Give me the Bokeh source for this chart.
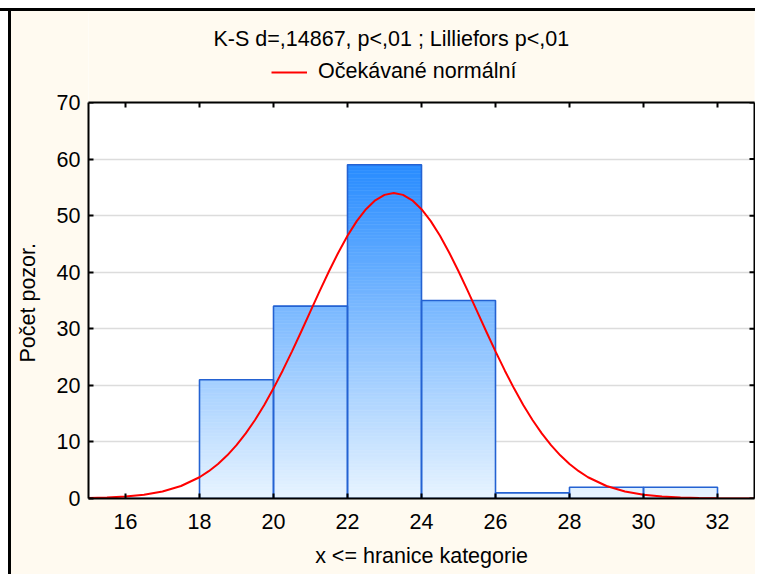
import numpy as np
from bokeh.plotting import figure
from bokeh.models import (Range1d, FixedTicker, Legend, LegendItem, Title, LinearAxis,
                          BoxAnnotation, Span, Label)
from bokeh.embed import file_html
from bokeh.resources import INLINE

# ---- data ----
bin_left = [16, 18, 20, 22, 24, 26, 28, 30]
bin_right = [18, 20, 22, 24, 26, 28, 30, 32]
counts = [0, 21, 34, 59, 35, 1, 2, 2]

curve_x = [15, 15.5, 16, 16.5, 17, 17.5, 18, 18.25, 18.5, 18.75, 19, 19.25, 19.5, 19.75,
           20, 20.25, 20.5, 20.75, 21, 21.25, 21.5, 21.75, 22, 22.25, 22.5, 22.75,
           23, 23.25, 23.5, 23.75, 24, 24.25, 24.5, 24.75, 25, 25.25, 25.5, 25.75,
           26, 26.25, 26.5, 26.75, 27, 27.25, 27.5, 27.75, 28, 28.25, 28.5, 29, 29.5,
           30, 30.5, 31, 31.5, 32, 32.5, 33]
curve_y = [0.08, 0.16, 0.34, 0.66, 1.24, 2.21, 3.76, 4.83, 6.11, 7.63, 9.43, 11.51, 13.88, 16.53,
           19.47, 22.64, 26.01, 29.52, 33.11, 36.69, 40.17, 43.45, 46.44, 49.03, 51.14, 52.71,
           53.67, 54.0, 53.67, 52.71, 51.14, 49.03, 46.44, 43.45, 40.17, 36.69, 33.11, 29.52,
           26.01, 22.64, 19.47, 16.53, 13.88, 11.51, 9.43, 7.63, 6.11, 4.83, 3.76, 2.21, 1.24,
           0.66, 0.34, 0.16, 0.08, 0.03, 0.013, 0.005]

x_ticks = [16, 18, 20, 22, 24, 26, 28, 30, 32]
y_ticks = [0, 10, 20, 30, 40, 50, 60, 70]

title_text = "K-S d=,14867, p<,01 ; Lilliefors p<,01"
legend_label = "Očekávané normální"
x_label = "x <= hranice kategorie"
y_label = "Počet pozor."

FONT = "Liberation Sans"
FS = "21.5px"
CREAM = "#fffaf0"
X0, X1, Y0, Y1 = 15, 33, 0, 70

# layout (pixels): the frame reaches up to hold title and legend; the plot box is 102..498
W, H = 755, 574
FRAME_TOP, PLOT_TOP, FRAME_BOTTOM, FRAME_LEFT = 12, 102, 498, 89
Y_TOP = Y1 * (FRAME_BOTTOM - FRAME_TOP) / (FRAME_BOTTOM - PLOT_TOP)

p = figure(width=W, height=H, x_range=Range1d(X0, X1), y_range=Range1d(Y0, Y_TOP),
           output_backend="svg", toolbar_location=None, title=None,
           min_border_left=0, min_border_right=1, min_border_bottom=H - FRAME_BOTTOM,
           min_border_top=FRAME_TOP,
           background_fill_color="white", border_fill_alpha=0, outline_line_color=None)
p.styles = {
    "background": "linear-gradient(to bottom, white 0px, white 8px, black 8px, black 11px, "
                  "transparent 11px), linear-gradient(to right, white 0px, white 8px, "
                  "black 8px, black 11px, transparent 11px), " + CREAM
}

p.xgrid.visible = False
p.ygrid.grid_line_color = "#dcdcdc"
p.ygrid.grid_line_width = 1.5
p.ygrid.ticker = FixedTicker(ticks=y_ticks)

# gradient-filled bars as thin slices
step = 0.5
c_lo = np.array([232, 244, 255])
c_hi = np.array([40, 140, 255])
top_ref = max(counts)
sl, sr, sb, st, sc = [], [], [], [], []
for l, r, c in zip(bin_left, bin_right, counts):
    y0 = 0.0
    while y0 < c:
        y1 = min(y0 + step, c)
        t = ((y0 + y1) / 2) / top_ref
        col = (c_lo + (c_hi - c_lo) * t).round().astype(int)
        sl.append(l); sr.append(r); sb.append(y0); st.append(y1)
        sc.append("#%02x%02x%02x" % tuple(col))
        y0 = y1
p.quad(left=sl, right=sr, bottom=sb, top=st, fill_color=sc, line_color=sc, line_width=0.6)
p.quad(left=bin_left, right=bin_right, bottom=0, top=counts, fill_color=None,
       line_color="#2462d2", line_width=1.6)

curve = p.line(curve_x, curve_y, line_color="red", line_width=2)

# mirrored inward ticks on the top and right edges of the plot box
p.scatter(x_ticks, [Y1] * len(x_ticks), marker="dash", angle=np.pi / 2, size=10,
          line_color="black", line_width=2)
p.scatter([X1] * len(y_ticks), y_ticks, marker="dash", size=10,
          line_color="black", line_width=2)

# cream area above the plot box, and the top edge of the box
p.add_layout(BoxAnnotation(bottom=Y1, fill_color=CREAM, fill_alpha=1, line_color=None))
p.add_layout(Span(location=Y1, dimension="width", line_color="black", line_width=2))

# axes
for ax in (p.xaxis[0], p.yaxis[0]):
    ax.major_tick_in = 5
    ax.major_tick_out = 0
    ax.minor_tick_line_color = None
    ax.axis_line_width = 2
    ax.major_tick_line_width = 2
    ax.major_label_text_font = FONT
    ax.major_label_text_font_size = FS
    ax.major_label_text_color = "black"
    ax.axis_label_text_font = FONT
    ax.axis_label_text_font_size = FS
    ax.axis_label_text_font_style = "normal"
    ax.axis_label_text_color = "black"
p.xaxis.ticker = FixedTicker(ticks=x_ticks)
p.yaxis.ticker = FixedTicker(ticks=y_ticks)
p.yaxis.bounds = (Y0, Y1)
p.xaxis.axis_label = x_label
p.xaxis.major_label_standoff = 15
p.xaxis.axis_label_standoff = 12
p.yaxis.major_label_standoff = 8

right_line = LinearAxis(ticker=FixedTicker(ticks=[]), bounds=(Y0, Y1), axis_line_width=2,
                        axis_line_color="black", major_tick_out=0, major_tick_in=0,
                        major_label_standoff=0, minor_tick_line_color=None)
p.add_layout(right_line, "right")

# y label as a side title, placed along the plot box
ylab = Title(text=y_label, align="left", offset=136, text_font=FONT, text_font_size=FS,
             text_font_style="normal", text_color="black", standoff=27)
p.add_layout(ylab, "left")

# title and legend in the cream band above the plot box (frame-relative pixels)
p.add_layout(Label(x=214 - FRAME_LEFT, y=FRAME_BOTTOM - 38, x_units="screen", y_units="screen",
                   text=title_text, text_font=FONT, text_font_size=FS,
                   text_align="left", text_baseline="alphabetic", text_color="black"))
legend = Legend(items=[LegendItem(label=legend_label, renderers=[curve])],
                location=(272 - FRAME_LEFT, FRAME_BOTTOM - 84), orientation="horizontal",
                border_line_color=None, background_fill_alpha=0,
                label_text_font=FONT, label_text_font_size=FS, label_text_color="black",
                glyph_width=36, glyph_height=24, label_height=24,
                label_standoff=11, padding=0, margin=0)
p.add_layout(legend)

open("out.html", "w").write(file_html(p, INLINE))
